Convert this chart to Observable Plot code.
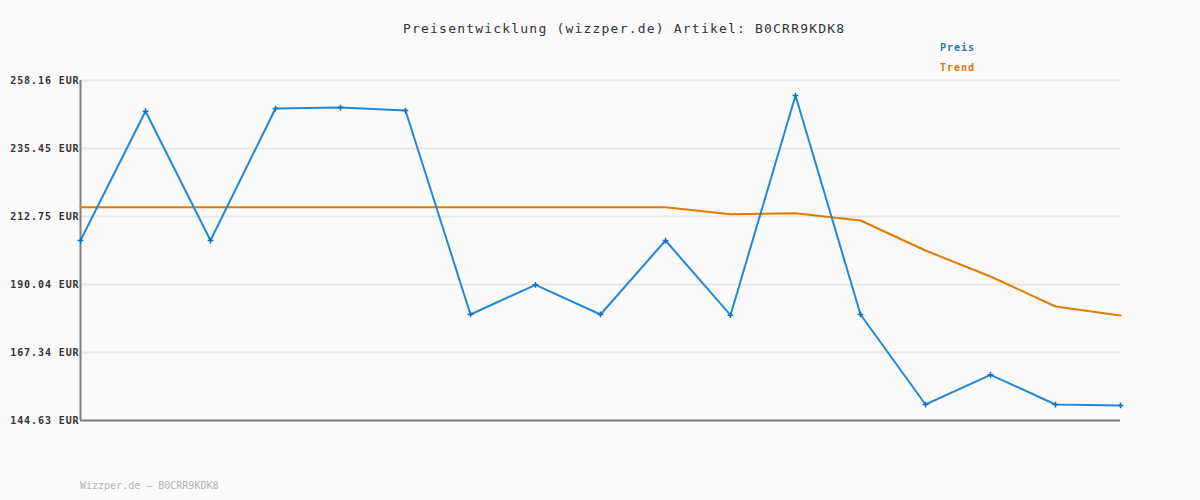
<!DOCTYPE html>
<html>
<head>
<meta charset="utf-8">
<script src="https://cdn.jsdelivr.net/npm/d3@7"></script>
<script src="https://cdn.jsdelivr.net/npm/@observablehq/plot@0.6"></script>
<style>
  html, body { margin: 0; padding: 0; background: #fafafa; }
  #wrap { position: relative; width: 1200px; height: 500px; background: #fafafa; font-family: "DejaVu Sans Mono", monospace; }
  #chart { position: absolute; left: 0; top: 0; }
  .title { position: absolute; left: 403px; top: 21px; font-size: 13px; letter-spacing: 1.2px; color: #333; white-space: nowrap; }
  .leg { position: absolute; left: 940px; font-size: 10px; font-weight: bold; letter-spacing: 1px; white-space: nowrap; }
  .foot { position: absolute; left: 80px; top: 480px; font-size: 10px; color: #b4b4b4; white-space: nowrap; }
  g[aria-label="y-axis tick label"] text { font-weight: bold; letter-spacing: 0.9px; }
</style>
</head>
<body>
<div id="wrap">
  <div id="chart"></div>
  <div class="title">Preisentwicklung (wizzper.de) Artikel: B0CRR9KDK8</div>
  <div class="leg" style="top:42px;color:#1a7ac0">Preis</div>
  <div class="leg" style="top:62px;color:#d87800">Trend</div>
  <div class="foot">Wizzper.de – B0CRR9KDK8</div>
</div>
<script>
const yTicks = [144.63, 167.34, 190.04, 212.75, 235.45, 258.16];
const preis = [204.73, 247.91, 204.73, 248.81, 249.14, 248.14, 180.03, 189.94, 180.03, 204.73, 179.8, 253.15, 180.03, 149.97, 159.89, 149.97, 149.64];
const trend = [215.85, 215.85, 215.85, 215.85, 215.85, 215.85, 215.85, 215.85, 215.85, 215.85, 213.52, 213.85, 211.41, 201.39, 192.71, 182.70, 179.69];

const preisData = preis.map((v, i) => ({i, v}));
const trendData = trend.map((v, i) => ({i, v}));

const chart = Plot.plot({
  width: 1200,
  height: 500,
  marginLeft: 80,
  marginRight: 80,
  marginTop: 80,
  marginBottom: 80,
  style: { background: "#fafafa", fontFamily: "DejaVu Sans Mono", fontSize: "10px", color: "#333" },
  x: { domain: [0, preis.length - 1], axis: null },
  y: { domain: [yTicks[0], yTicks[yTicks.length - 1]], axis: null },
  marks: [
    Plot.ruleY(yTicks, { stroke: "#e6e6e6", strokeWidth: 2 }),
    Plot.axisY({ ticks: yTicks, tickSize: 0, tickPadding: 1, label: null, tickFormat: d => d.toFixed(2) + " EUR", fill: "#333" }),
    Plot.ruleX([0], { stroke: "#808080", strokeWidth: 2 }),
    Plot.ruleY([yTicks[0]], { stroke: "#808080", strokeWidth: 2 }),
    Plot.line(trendData, { x: "i", y: "v", stroke: "#e07b00", strokeWidth: 2 }),
    Plot.line(preisData, { x: "i", y: "v", stroke: "#2288d8", strokeWidth: 2 }),
    Plot.dot(preisData, { x: "i", y: "v", symbol: "plus", r: 2, stroke: "#0a70c0", strokeWidth: 1.5 })
  ]
});
document.getElementById("chart").appendChild(chart);
</script>
</body>
</html>
